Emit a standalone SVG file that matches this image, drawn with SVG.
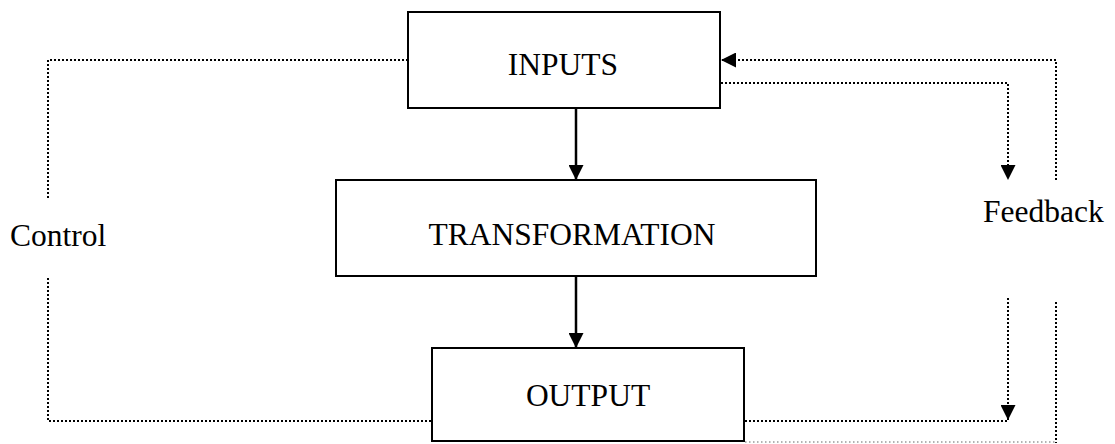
<svg xmlns="http://www.w3.org/2000/svg" width="1115" height="444" viewBox="0 0 1115 444">
<defs>
<style>
.box{fill:#fff;stroke:#000;stroke-width:2}
.lbl{font-family:"Liberation Serif","Times New Roman",serif;font-size:31.5px;fill:#000}
.solid{stroke:#000;stroke-width:2.5;fill:none}
.dot{stroke:#000;stroke-width:2;fill:none;stroke-dasharray:2 2}
.dotg{stroke:#999;stroke-width:1.5;fill:none;stroke-dasharray:1.5 2.5}
</style>
<marker id="ah" viewBox="0 0 10 10" refX="10" refY="5" markerWidth="15" markerHeight="15" markerUnits="userSpaceOnUse" orient="auto">
<path d="M0,0 L10,5 L0,10 Z" fill="#000"/>
</marker>
</defs>
<g id="connectors">
<line class="solid" x1="576" y1="108" x2="576" y2="180" marker-end="url(#ah)"/>
<line class="solid" x1="576" y1="276" x2="576" y2="348" marker-end="url(#ah)"/>
<polyline class="dot" points="408,60 48,60 48,198"/>
<polyline class="dot" points="48,278 48,421 431,421"/>
<polyline class="dot" points="1056,180 1056,60 721,60" marker-end="url(#ah)"/>
<polyline class="dot" points="721,83 1008,83 1008,180" marker-end="url(#ah)"/>
<line class="dot" x1="1008" y1="298" x2="1008" y2="420" marker-end="url(#ah)"/>
<line class="dot" x1="745" y1="421" x2="1008" y2="421"/>
<line class="dot" x1="1056" y1="302" x2="1056" y2="443"/>
<line class="dotg" x1="745" y1="442" x2="1056" y2="442"/>
</g>
<g id="inputs">
<rect class="box" x="408" y="12" width="312" height="96"/>
<text class="lbl" x="563" y="75" text-anchor="middle">INPUTS</text>
</g>
<g id="transformation">
<rect class="box" x="336" y="180" width="480" height="96"/>
<text class="lbl" x="572" y="245" text-anchor="middle">TRANSFORMATION</text>
</g>
<g id="output">
<rect class="box" x="432" y="348" width="312" height="93"/>
<text class="lbl" x="588" y="406" text-anchor="middle">OUTPUT</text>
</g>
<g id="control-label">
<text class="lbl" x="10" y="246">Control</text>
</g>
<g id="feedback-label">
<text class="lbl" x="983" y="222">Feedback</text>
</g>
</svg>
